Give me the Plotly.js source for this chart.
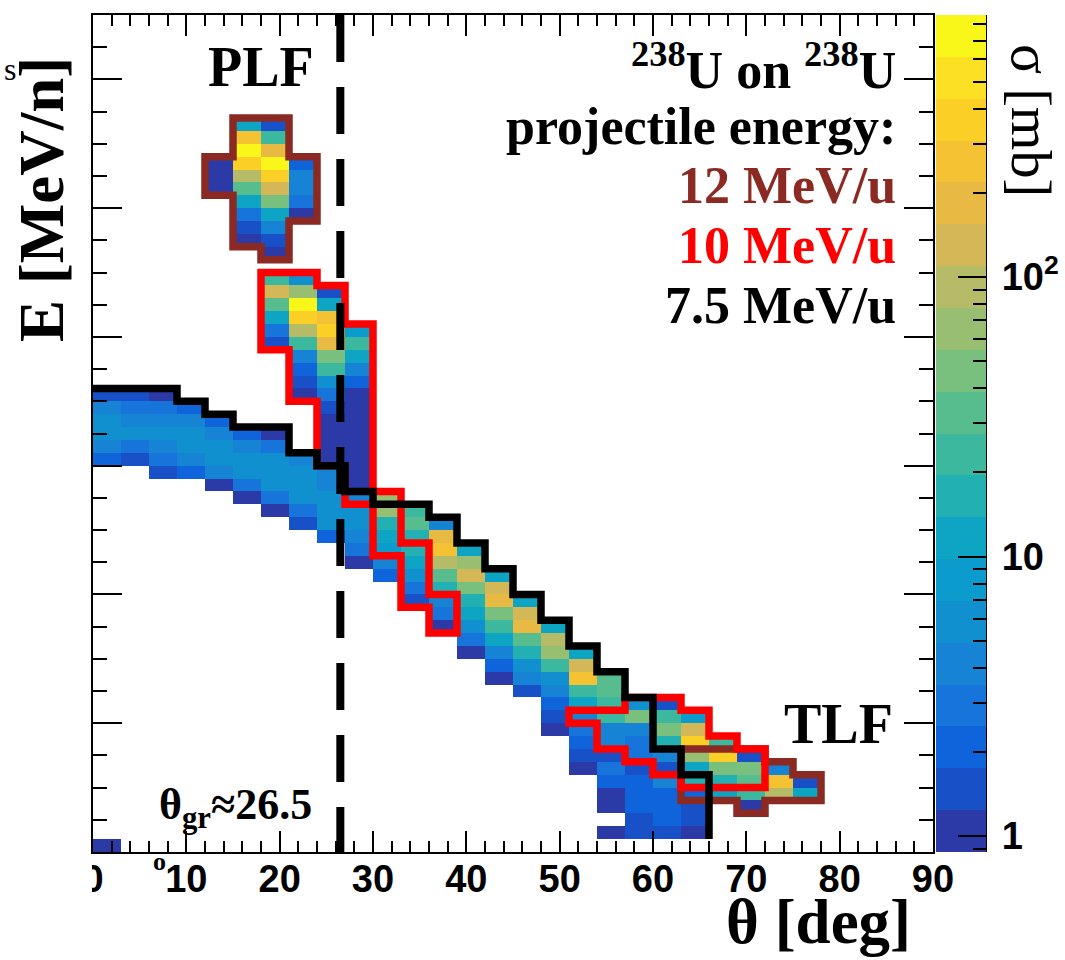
<!DOCTYPE html>
<html><head><meta charset="utf-8">
<script src="https://cdn.plot.ly/plotly-3.0.1.min.js"></script>
<style>html,body{margin:0;padding:0;background:#fff}#chart{width:1065px;height:960px}</style>
</head><body><div id="chart"></div>
<script>
// ---------------- data ----------------
// histogram binning (theta in deg, E in MeV/n)
const thetaBinWidth = 3;
const energyBinWidth = 0.2;
const nThetaBins = 30;
const nEnergyBins = 65;

// filled cells, given as vertical runs: lower bin edge (theta, E) and sigma [mb] from bottom to top
const runTheta = [0, 0, 3, 6, 9, 12, 12, 15, 15, 18, 18, 18, 21, 21, 21, 24, 27, 30, 33, 36, 39, 42, 45, 48, 51, 54, 54, 57, 60, 63, 66, 69, 72, 75];
const runE     = [0.0, 6.0, 6.0, 5.8, 5.8, 5.6, 10.2, 5.4, 9.4, 5.2, 7.8, 9.2, 5.0, 7.0, 9.8, 4.8, 4.4, 4.2, 3.8, 3.4, 3.0, 2.6, 2.4, 1.8, 1.2, 0.2, 0.6, 0.2, 0.2, 0.2, 0.8, 0.6, 0.8, 0.8];
const runSigma = [
  [1.0],
  [2.1, 4.1, 5.8, 5.8, 4.1, 1.5],
  [1.5, 2.9, 5.8, 4.1, 2.9, 1.5],
  [1.5, 2.9, 4.1, 5.8, 4.1, 2.9, 1.0],
  [2.1, 4.1, 5.8, 5.8, 4.1, 2.1],
  [1.0, 4.1, 5.8, 5.8, 4.1, 2.1],
  [1.0, 1.0, 1.0],
  [1.0, 2.9, 5.8, 5.8, 4.1, 2.1],
  [1.0, 1.5, 2.9, 12, 33, 92, 365, 730, 260, 12],
  [1.0, 2.9, 5.8, 5.8, 5.8, 2.9, 1.0],
  [1.5, 2.9, 12, 33, 130, 23],
  [1.0, 1.5, 4.1, 12, 46, 130, 365, 730, 180, 23, 1.5],
  [1.5, 2.9, 5.8, 5.8, 5.8, 4.1],
  [1.0, 1.5, 2.1, 4.1, 23, 92, 365, 730, 65, 5.8],
  [1.0, 2.9, 4.1, 4.1, 2.1],
  [2.1, 5.8, 5.8, 5.8, 4.1, 4.1, 1.0, 1.0, 1.0, 1.0, 1.5, 2.9, 5.8, 23, 46, 180, 365, 260, 12, 1.5],
  [1.0, 2.9, 4.1, 5.8, 5.8, 4.1, 1.0, 1.0, 1.0, 1.0, 1.0, 1.0, 1.0, 1.0, 2.1, 4.1, 12, 23, 8.2],
  [2.1, 4.1, 8.2, 12, 16, 65, 65],
  [1.5, 2.9, 5.8, 12, 16, 16, 33, 23],
  [1.0, 2.9, 4.1, 16, 33, 92, 260, 180, 4.1],
  [1.0, 2.9, 5.8, 12, 16, 46, 130, 65, 12],
  [1.0, 2.1, 4.1, 12, 23, 46, 180, 130, 12],
  [1.5, 4.1, 5.8, 16, 33, 180, 130, 12],
  [1.0, 1.5, 2.1, 4.1, 5.8, 23, 65, 92, 12],
  [1.0, 1.5, 2.1, 2.9, 4.1, 12, 23, 260, 130, 12],
  [1.0],
  [1.0, 1.0, 2.1, 2.9, 1.5, 4.1, 4.1, 23, 23, 33, 33],
  [1.5, 1.5, 2.1, 2.1, 2.1, 1.5, 2.9, 2.9, 4.1, 46, 5.8],
  [1.5, 2.1, 2.1, 2.1, 4.1, 1.5, 4.1, 16, 46, 23, 1.5],
  [1.0, 1.5, 1.5, 2.1, 16, 12, 65, 365, 130, 8.2],
  [12, 16, 46, 365, 23],
  [1.0, 23, 33, 46, 1.5],
  [92, 260, 4.1],
  [12, 1.5]
];

// region outlines (bin-edge vertices, theta [deg], E [MeV/n])
const plf12Theta = [15, 21, 21, 24, 24, 21, 21, 18, 18, 15, 15, 12, 12, 15];
const plf12E     = [11.4, 11.4, 10.8, 10.8, 9.8, 9.8, 9.2, 9.2, 9.4, 9.4, 10.2, 10.2, 10.8, 10.8];
const tlf12Theta = [63, 72, 72, 75, 75, 78, 78, 72, 72, 69, 69, 63];
const tlf12E     = [1.6, 1.6, 1.4, 1.4, 1.2, 1.2, 0.8, 0.8, 0.6, 0.6, 0.8, 0.8];
const plf10Theta = [18, 24, 24, 27, 27, 30, 30, 33, 33, 36, 36, 39, 39, 36, 36, 33, 33, 30, 30, 27, 27, 24, 24, 21, 21, 18];
const plf10E     = [9.0, 9.0, 8.8, 8.8, 8.2, 8.2, 5.6, 5.6, 4.8, 4.8, 4.0, 4.0, 3.4, 3.4, 3.8, 3.8, 4.6, 4.6, 5.4, 5.4, 6.0, 6.0, 7.0, 7.0, 7.8, 7.8];
const tlf10Theta = [51, 57, 57, 63, 63, 66, 66, 69, 69, 72, 72, 63, 63, 60, 60, 57, 57, 54, 54, 51];
const tlf10E     = [2.2, 2.2, 2.4, 2.4, 2.2, 2.2, 1.8, 1.8, 1.6, 1.6, 1.0, 1.0, 1.2, 1.2, 1.4, 1.4, 1.6, 1.6, 2.0, 2.0];
const edge75Theta = [0, 9, 9, 12, 12, 15, 15, 21, 21, 24, 24, 27, 27, 30, 30, 36, 36, 39, 39, 42, 42, 45, 45, 48, 48, 51, 51, 54, 54, 57, 57, 60, 60, 63, 63, 66, 66];
const edge75E     = [7.2, 7.2, 7.0, 7.0, 6.8, 6.8, 6.6, 6.6, 6.2, 6.2, 6.0, 6.0, 5.6, 5.6, 5.4, 5.4, 5.2, 5.2, 4.8, 4.8, 4.4, 4.4, 4.0, 4.0, 3.6, 3.6, 3.2, 3.2, 2.8, 2.8, 2.4, 2.4, 1.6, 1.6, 1.2, 1.2, 0.2];

const thetaGrazing = 26.5;
const colorbarMajorTicks = [1, 10, 100];
const colorbarMajorLabels = ['\u20091', '\u200910', '\u200910<sup>2</sup>'];
const colorbarMinorTicks = [0.9, 2, 3, 4, 5, 6, 7, 8, 9, 20, 30, 40, 50, 60, 70, 80, 90, 200, 300, 400, 500, 600, 700, 800];
const sigmaMin = 0.877, sigmaMax = 865;

// ---------------- styling ----------------
const bandColors = ['#2b3aa6','#1850c8','#1064db','#1674da','#1683d5','#1190d0','#0b9bcc','#0ea5c5','#22b0b2','#3cb89e',
                    '#58bd8e','#79bf7e','#98be72','#b6bb67','#d4b756','#e8ba44','#f5c233','#fccf26','#fce023','#f9f71a'];
const brown = '#8b2a22', red = '#ff0000';
const serif = 'Liberation Serif, Times New Roman, serif';
const sans = 'Liberation Sans, Arial, sans-serif';

// ---------------- build ----------------
const z = [];
for (let r = 0; r < nEnergyBins; r++) { z.push(new Array(nThetaBins).fill(null)); }
runTheta.forEach((t, i) => {
  const c = Math.round(t / thetaBinWidth);
  const r0 = Math.round(runE[i] / energyBinWidth);
  runSigma[i].forEach((s, j) => { z[r0 + j][c] = Math.log10(s); });
});
const zmin = Math.log10(sigmaMin), zmax = Math.log10(sigmaMax);
const n = bandColors.length;
const colorscale = [];
bandColors.forEach((c, k) => { colorscale.push([k / n, c]); colorscale.push([(k + 1) / n, c]); });
const clearScale = [[0, 'rgba(0,0,0,0)'], [1, 'rgba(0,0,0,0)']];

const cbCommon = {x: 1.0036, xanchor: 'left', xpad: 0, y: 0.5, yanchor: 'middle', ypad: 0,
  len: 1, lenmode: 'fraction', thickness: 50, thicknessmode: 'pixels', outlinewidth: 0,
  tickcolor: '#000', tickwidth: 2, ticks: 'inside'};

const heat = {
  type: 'heatmap', z: z, x0: thetaBinWidth / 2, dx: thetaBinWidth, y0: energyBinWidth / 2, dy: energyBinWidth,
  zmin: zmin, zmax: zmax, colorscale: colorscale, zsmooth: false, hoverinfo: 'skip',
  colorbar: Object.assign({}, cbCommon, {
    tickmode: 'array', tickvals: colorbarMajorTicks.map(Math.log10), ticktext: colorbarMajorLabels,
    ticklen: 28, tickfont: {family: sans, size: 38, color: '#000', weight: 'bold'}
  })
};
const minorBar = {
  type: 'scatter', mode: 'markers', x: [null], y: [null], hoverinfo: 'skip',
  marker: {color: [0], cmin: zmin, cmax: zmax, colorscale: clearScale, showscale: true,
    colorbar: Object.assign({}, cbCommon, {tickmode: 'array', tickvals: colorbarMinorTicks.map(Math.log10),
      ticklen: 13, showticklabels: false})}
};
function closed(a) { return a.concat([a[0], a[1]]); }
function outline(t, e, color, close) {
  return {type: 'scatter', mode: 'lines', x: close ? closed(t) : t, y: close ? closed(e) : e,
    line: {color: color, width: 7.5}, hoverinfo: 'skip'};
}
const traces = [heat, minorBar,
  outline(plf12Theta, plf12E, brown, true), outline(tlf12Theta, tlf12E, brown, true),
  outline(plf10Theta, plf10E, red, true), outline(tlf10Theta, tlf10E, red, true),
  outline(edge75Theta, edge75E, '#000', false)];

const px = X => (X - 93) / 840, py = Y => (852 - Y) / 837;
function ann(text, X, Y, size, opts) {
  return Object.assign({text: text, x: px(X), y: py(Y), xref: 'paper', yref: 'paper', showarrow: false,
    xanchor: 'center', yanchor: 'middle', font: {family: serif, size: size, color: '#000'}}, opts || {});
}
const annotations = [
  ann('<b>PLF</b>', 261, 67, 56),
  ann('<b>TLF</b>', 838, 724, 56),
  ann('<b><sup>238</sup>U on <sup>238</sup>U</b>', 898, 66, 52, {xanchor: 'right'}),
  ann('<b>projectile energy:</b>', 898, 127, 52, {xanchor: 'right'}),
  ann('<b>12 MeV/u</b>', 898, 185, 52, {xanchor: 'right', font: {family: serif, size: 52, color: brown}}),
  ann('<b>10 MeV/u</b>', 898, 245, 52, {xanchor: 'right', font: {family: serif, size: 52, color: red}}),
  ann('<b>7.5 MeV/u</b>', 898, 305, 52, {xanchor: 'right'}),
  ann('<b>θ<sub>gr</sub>≈26.5</b>', 157, 807, 44, {xanchor: 'left'}),
  ann('<b>o</b>', 159, 861, 26),
  ann('s', 10, 69, 32),
  ann('<b>E [MeV/n]</b>', 42, 200, 63, {textangle: -90}),
  ann('<b>θ [deg]</b>', 913, 959, 63, {xanchor: 'right', yanchor: 'bottom'}),
  ann('σ [mb]', 1031, 120, 56, {textangle: 90})
];

const shapes = [
  {type: 'line', xref: 'x', yref: 'paper', x0: thetaGrazing, x1: thetaGrazing, y0: 1, y1: 0,
   line: {color: '#000', width: 8, dash: '47px,25px'}, layer: 'above'},
  {type: 'line', xref: 'paper', yref: 'paper', x0: px(986), x1: px(986), y0: 0, y1: 1,
   line: {color: '#000', width: 2}, layer: 'above'},
  {type: 'rect', xref: 'paper', yref: 'paper', x0: px(40), x1: px(92), y0: py(905), y1: py(856),
   fillcolor: '#fff', line: {width: 0}, layer: 'above'}
];

const axisCommon = {showline: true, linecolor: '#000', linewidth: 2, mirror: 'ticks', showgrid: false,
  zeroline: false, ticks: 'inside', tickwidth: 2, tickcolor: '#000'};
const layout = {
  width: 1065, height: 960, margin: {l: 93, r: 132, t: 15, b: 108, autoexpand: false},
  paper_bgcolor: '#fff', plot_bgcolor: '#fff', showlegend: false,
  xaxis: Object.assign({}, axisCommon, {range: [0, 90], tick0: 0, dtick: 10, ticklen: 21,
    tickfont: {family: sans, size: 38, color: '#000', weight: 'bold'}, ticklabelstandoff: -8,
    minor: {tick0: 0, dtick: 2, ticks: 'inside', ticklen: 11, tickwidth: 2, tickcolor: '#000', showgrid: false}}),
  yaxis: Object.assign({}, axisCommon, {range: [0, 13], tick0: 0, dtick: 2, ticklen: 29, showticklabels: false,
    minor: {tick0: 0, dtick: 0.5, ticks: 'inside', ticklen: 14, tickwidth: 2, tickcolor: '#000', showgrid: false}}),
  annotations: annotations, shapes: shapes
};
Plotly.newPlot('chart', traces, layout, {displayModeBar: false, staticPlot: true});
</script></body></html>
